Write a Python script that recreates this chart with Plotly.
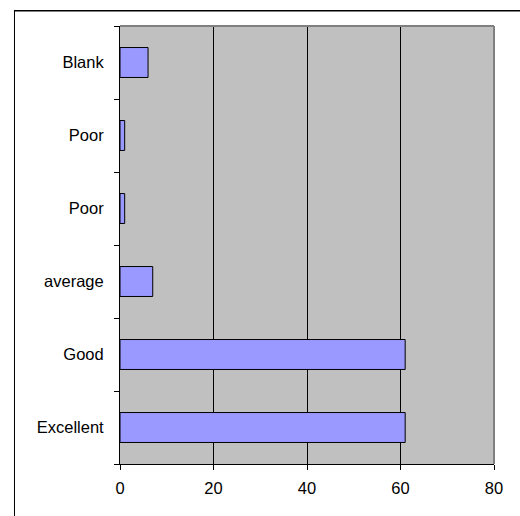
import plotly.graph_objects as go

# Survey responses, listed from the bottom of the chart to the top
labels = ["Excellent", "Good", "average", "Poor", "Poor", "Blank"]
counts = [61, 61, 7, 1, 1, 6]
x_ticks = [0, 20, 40, 60, 80]

positions = list(range(len(labels)))
boundaries = [p - 0.5 for p in positions] + [positions[-1] + 0.5]

FONT = dict(family="Liberation Sans, Arial, sans-serif", size=16.5, color="black")

fig = go.Figure()
fig.add_trace(go.Bar(
    x=counts,
    y=positions,
    orientation="h",
    width=0.41,
    marker=dict(color="#9999FF", line=dict(color="black", width=1)),
    hoverinfo="x",
))
# invisible trace so the boundary-tick axis is drawn
fig.add_trace(go.Scatter(x=[None], y=[None], yaxis="y2", showlegend=False, hoverinfo="skip"))

fig.update_layout(
    width=520,
    height=516,
    margin=dict(l=120, r=26, t=26, b=52),
    paper_bgcolor="white",
    plot_bgcolor="#C0C0C0",
    showlegend=False,
    font=FONT,
    xaxis=dict(
        range=[0, 80],
        tickvals=x_ticks,
        ticks="outside",
        ticklen=5,
        tickcolor="black",
        showgrid=True,
        gridcolor="black",
        gridwidth=1,
        zeroline=False,
        showline=True,
        linecolor="black",
        linewidth=1,
        ticklabelstandoff=4,
        tickfont=FONT,
    ),
    yaxis=dict(
        range=[boundaries[0], boundaries[-1]],
        tickvals=positions,
        ticktext=labels,
        ticks="",
        showgrid=False,
        zeroline=False,
        showline=True,
        linecolor="black",
        linewidth=1,
        ticklabelstandoff=12,
        tickfont=FONT,
    ),
    yaxis2=dict(
        overlaying="y",
        side="left",
        range=[boundaries[0], boundaries[-1]],
        tickvals=boundaries,
        ticks="outside",
        ticklen=5,
        tickcolor="black",
        showticklabels=False,
        showgrid=False,
        zeroline=False,
        showline=False,
    ),
    shapes=[
        # outer chart border: top edge as a thin filled strip, left edge as a line
        dict(type="rect", xref="paper", yref="paper", x0=-0.2834, x1=1.2, y0=1.0331, y1=1.0365,
             fillcolor="black", line=dict(width=0), layer="above"),
        dict(type="line", xref="paper", yref="paper", x0=-0.2821, x1=-0.2821, y0=-0.3, y1=1.0365,
             line=dict(color="black", width=1), layer="above"),
        # grey frame on the top and right of the plot area
        dict(type="line", xref="x domain", yref="y domain", x0=0, x1=1, y0=1, y1=1,
             line=dict(color="#808080", width=2), layer="above"),
        dict(type="line", xref="x domain", yref="y domain", x0=1, x1=1, y0=0, y1=1,
             line=dict(color="#808080", width=2), layer="above"),
    ],
)

fig.write_html("out.html")
